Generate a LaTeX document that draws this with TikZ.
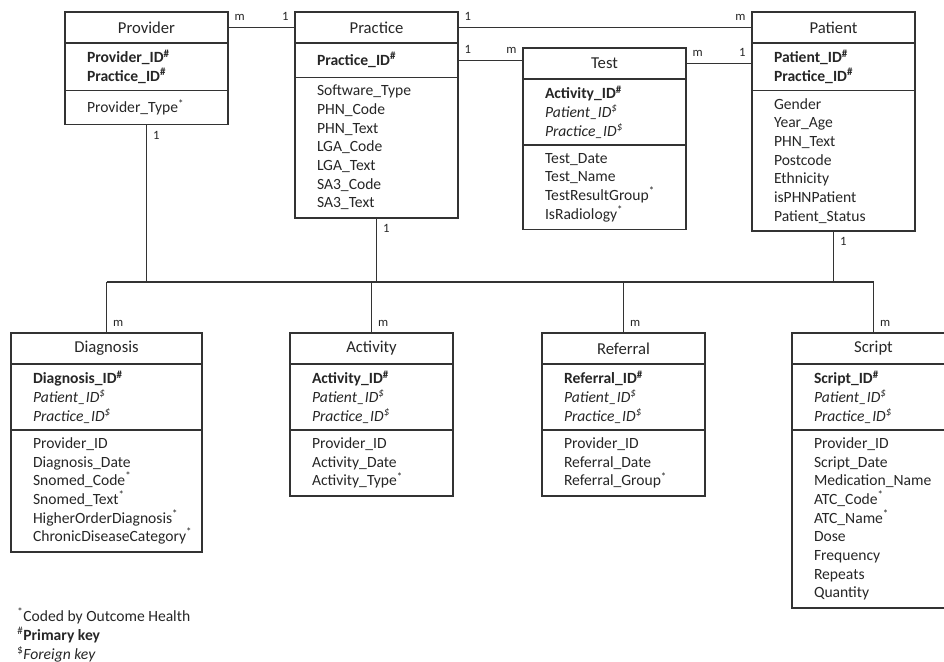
\documentclass[tikz,border=0pt]{standalone}
\usepackage{fontspec}
\setmainfont{Carlito}
\usetikzlibrary{positioning}
\hyphenpenalty=10000
\hfuzz=20pt
\newcommand{\pkey}[1]{\textbf{#1\textsuperscript{\#}}}
\newcommand{\fkey}[1]{\textit{#1\textsuperscript{\$}}}
\newcommand{\coded}[1]{#1\textsuperscript{*}}
\tikzset{
  entity/.style={draw=black!80, line width=1.1pt, outer sep=0pt, minimum width=122.25pt, minimum height=23.25pt, anchor=north west, font={\fontsize{12.5}{15}\selectfont}},
  fields/.style={draw=black!80, line width=1.1pt, outer sep=0pt, align=left, text width=89.25pt, inner xsep=16.5pt, inner ysep=0pt, minimum height={14pt*#1+7.5pt}, font={\fontsize{11.7}{14}\selectfont}},
  link/.style={draw=black!80, line width=0.8pt},
  card/.style={inner sep=4.5pt, font={\fontsize{9.5}{11}\selectfont}},
  legend/.style={align=left, inner sep=0pt, anchor=west, font={\fontsize{11.7}{14}\selectfont}}
}

\begin{document}
\begin{tikzpicture}[x=0.75pt, y=-0.75pt, every node/.style={text=black!85}]
      \useasboundingbox (0,0) rectangle (944,661);
      \node[entity] (provider) at (65,12) {Provider};
      \node[fields=2, below=0pt of provider] (provider-keys) {\pkey{Provider\_ID}\\\pkey{Practice\_ID}};
      \node[fields=1.3, below=0pt of provider-keys] (provider-attrs) {\coded{Provider\_Type}};
      \node[entity] (practice) at (295,12) {Practice};
      \node[fields=1.3, below=0pt of practice] (practice-keys) {\pkey{Practice\_ID}};
      \node[fields=7, below=0pt of practice-keys] (practice-attrs) {Software\_Type\\PHN\_Code\\PHN\_Text\\LGA\_Code\\LGA\_Text\\SA3\_Code\\SA3\_Text};
      \node[entity] (test) at (523,48) {Test};
      \node[fields=3, below=0pt of test] (test-keys) {\pkey{Activity\_ID}\\\fkey{Patient\_ID}\\\fkey{Practice\_ID}};
      \node[fields=4, below=0pt of test-keys] (test-attrs) {Test\_Date\\Test\_Name\\\coded{TestResultGroup}\\\coded{IsRadiology}};
      \node[entity] (patient) at (752,12) {Patient};
      \node[fields=2, below=0pt of patient] (patient-keys) {\pkey{Patient\_ID}\\\pkey{Practice\_ID}};
      \node[fields=7, below=0pt of patient-keys] (patient-attrs) {Gender\\Year\_Age\\PHN\_Text\\Postcode\\Ethnicity\\isPHNPatient\\Patient\_Status};
      \node[entity, minimum width=143.25pt] (diagnosis) at (11,333) {Diagnosis};
      \node[fields=3, text width=110.25pt, below=0pt of diagnosis] (diagnosis-keys) {\pkey{Diagnosis\_ID}\\\fkey{Patient\_ID}\\\fkey{Practice\_ID}};
      \node[fields=6, text width=110.25pt, below=0pt of diagnosis-keys] (diagnosis-attrs) {Provider\_ID\\Diagnosis\_Date\\\coded{Snomed\_Code}\\\coded{Snomed\_Text}\\\coded{HigherOrderDiagnosis}\\\coded{ChronicDiseaseCategory}};
      \node[entity] (activity) at (290,333) {Activity};
      \node[fields=3, below=0pt of activity] (activity-keys) {\pkey{Activity\_ID}\\\fkey{Patient\_ID}\\\fkey{Practice\_ID}};
      \node[fields=3, below=0pt of activity-keys] (activity-attrs) {Provider\_ID\\Activity\_Date\\\coded{Activity\_Type}};
      \node[entity] (referral) at (542,333) {Referral};
      \node[fields=3, below=0pt of referral] (referral-keys) {\pkey{Referral\_ID}\\\fkey{Patient\_ID}\\\fkey{Practice\_ID}};
      \node[fields=3, below=0pt of referral-keys] (referral-attrs) {Provider\_ID\\Referral\_Date\\\coded{Referral\_Group}};
      \node[entity] (script) at (792,333) {Script};
      \node[fields=3, below=0pt of script] (script-keys) {\pkey{Script\_ID}\\\fkey{Patient\_ID}\\\fkey{Practice\_ID}};
      \node[fields=9, below=0pt of script-keys] (script-attrs) {Provider\_ID\\Script\_Date\\Medication\_Name\\\coded{ATC\_Code}\\\coded{ATC\_Name}\\Dose\\Frequency\\Repeats\\Quantity};
      \draw[link] (provider.east) -- (provider.east -| practice.west) node[card, pos=0, above right] (pp-m) {m} node[card, pos=1, above left] (pp-one) {1};
      \draw[link] (practice.east) -- (practice.east -| patient.west) node[card, pos=0, above right] (pa-one) {1} node[card, pos=1, above left] (pa-m) {m};
      \draw[link] (practice-keys.east) -- (practice-keys.east -| test.west) node[card, pos=0, above right] (pt-one) {1} node[card, pos=1, above left] (pt-m) {m};
      \draw[link] (test.east) -- (test.east -| patient-keys.west) node[card, pos=0, above right] (tp-m) {m} node[card, pos=1, above left] (tp-one) {1};
      \coordinate (bus) at (0,282);
      \draw[link] (diagnosis.north |- bus) -- (script.north |- bus);
      \foreach \e in {provider-attrs, practice-attrs, patient-attrs}
        \draw[link] (\e.south) -- (\e.south |- bus) node[card, pos=0, below right] (\e-one) {1};
      \foreach \e in {diagnosis, activity, referral, script}
        \draw[link] (\e.north |- bus) -- (\e.north) node[card, pos=1, above right] (\e-m) {m};
      \node[legend] (notes) at (17,635) {\textsuperscript{*}Coded by Outcome Health\\\textsuperscript{\#}\textbf{Primary key}\\\textsuperscript{\$}\textit{Foreign key}};
    \end{tikzpicture}
\end{document}
